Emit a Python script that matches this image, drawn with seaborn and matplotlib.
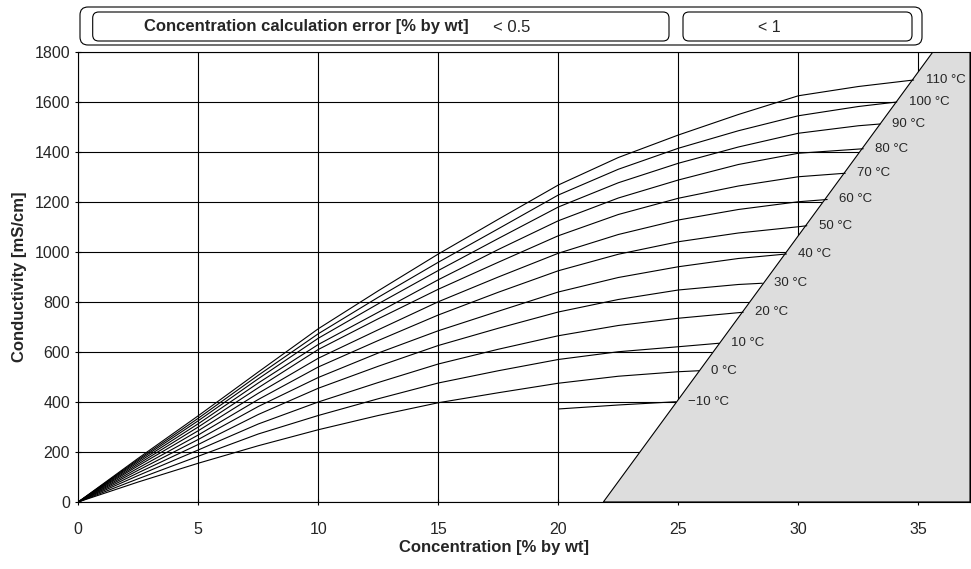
import pandas as pd
import seaborn as sns
import matplotlib.pyplot as plt
from matplotlib.patches import FancyBboxPatch

# concentration grid [% by wt]
conc = [0, 2.5, 5, 7.5, 10, 12.5, 15, 17.5, 20, 22.5, 25, 27.5, 30, 32.5]

# conductivity [mS/cm], one list per temperature
c110 = [0, 175, 345, 520, 693, 845, 992, 1131, 1268, 1378, 1468, 1550, 1625, 1662]
c100 = [0, 170, 335, 507, 673, 819, 959, 1093, 1228, 1331, 1415, 1485, 1545, 1582]
c90 = [0, 165, 325, 493, 655, 793, 926, 1054, 1180, 1277, 1355, 1420, 1475, 1505]
c80 = [0, 159, 313, 476, 630, 759, 889, 1010, 1125, 1216, 1288, 1350, 1395]
c70 = [0, 152, 300, 457, 610, 733, 851, 959, 1065, 1150, 1215, 1264, 1301]
c60 = [0, 145, 285, 435, 575, 689, 801, 900, 995, 1070, 1128, 1170, 1201]
c50 = [0, 136, 268, 410, 540, 646, 748, 839, 925, 991, 1041, 1076, 1101]
c40 = [0, 127, 250, 382, 498, 596, 685, 763, 840, 898, 941, 974]
c30 = [0, 117, 230, 350, 455, 543, 626, 695, 760, 810, 848, 870]
c20 = [0, 106, 208, 312, 400, 478, 552, 611, 665, 706, 735]
c10 = [0, 93, 183, 272, 346, 413, 476, 525, 570, 601, 621]
c0 = [0, 80, 155, 225, 289, 346, 397, 437, 475, 503, 521]
cm10_conc = [20, 22.5]
cm10 = [372, 388]

temps = [110, 100, 90, 80, 70, 60, 50, 40, 30, 20, 10, 0, -10]
series = [c110, c100, c90, c80, c70, c60, c50, c40, c30, c20, c10, c0, cm10]
# where each curve meets the shaded limit
end_conc = [34.8, 34.1, 33.4, 32.7, 31.95, 31.2, 30.35, 29.5, 28.5, 27.7, 26.7, 25.86, 24.9]
end_cond = [1688, 1600, 1512, 1413, 1315, 1210, 1105, 992, 875, 759, 635, 525, 401]

# shaded region (outside calculation range)
limit_conc = [21.875, 35.6]
limit_cond = [0, 1800]

rows = []
for t, vals, xe, ye in zip(temps, series, end_conc, end_cond):
    xs = cm10_conc if t == -10 else conc[:len(vals)]
    for x, y in zip(list(xs) + [xe], list(vals) + [ye]):
        rows.append({"temp": t, "conc": x, "cond": y})
df = pd.DataFrame(rows)

sns.set_style("ticks")
plt.rcParams['font.family'] = ['Liberation Sans', 'DejaVu Sans']

fig = plt.figure(figsize=(9.71, 5.69), dpi=100)
ax = fig.add_axes([0.0806, 0.1178, 0.9184, 0.7908])
xmax = 37.15

ax.set_axisbelow(True)
ax.grid(True, color="black", lw=0.8)
ax.fill([limit_conc[0], limit_conc[1], xmax, xmax],
        [limit_cond[0], limit_cond[1], limit_cond[1], limit_cond[0]],
        facecolor="#dddddd", edgecolor="black", lw=0.8, zorder=1)

sns.lineplot(data=df, x="conc", y="cond", hue="temp", units="temp", estimator=None,
             palette={t: "black" for t in temps}, legend=False, lw=0.8, ax=ax, zorder=2)

for t, xe, ye in zip(temps, end_conc, end_cond):
    lab = ("\u2212%d" % -t if t < 0 else "%d" % t) + " °C"
    ax.text(xe + 0.5, ye, lab, fontsize=9.5, va="center", ha="left", zorder=3)

ax.set_xlim(0, xmax)
ax.set_ylim(0, 1800)
ax.set_xticks(range(0, 40, 5))
ax.set_yticks(range(0, 2000, 200))
ax.tick_params(axis="both", direction="inout", length=5, width=0.8, labelsize=11.5, color="black")
ax.tick_params(axis="x", pad=12)
for s in ax.spines.values():
    s.set_color("black")
    s.set_linewidth(0.8)

ax.set_xlabel("Concentration [% by wt]", fontsize=12, fontweight="bold")
ax.xaxis.set_label_coords(34.6 / xmax / 2, -0.085)
ax.set_ylabel("Conductivity [mS/cm]", fontsize=12, fontweight="bold", labelpad=5)

# header boxes (inch coordinates)
tr = fig.dpi_scale_trans
fig.patches.append(FancyBboxPatch((0.80, 5.24), 8.42, 0.38, boxstyle="round,pad=0,rounding_size=0.08",
                                  transform=tr, facecolor="white", edgecolor="black", lw=0.8))
fig.patches.append(FancyBboxPatch((0.927, 5.28), 5.763, 0.29, boxstyle="round,pad=0,rounding_size=0.06",
                                  transform=tr, facecolor="white", edgecolor="black", lw=0.8))
fig.patches.append(FancyBboxPatch((6.83, 5.28), 2.29, 0.29, boxstyle="round,pad=0,rounding_size=0.06",
                                  transform=tr, facecolor="white", edgecolor="black", lw=0.8))
fig.text(3.06, 5.42, "Concentration calculation error [% by wt]", transform=tr,
         fontsize=12, fontweight="bold", ha="center", va="center")
fig.text(4.93, 5.42, "< 0.5", transform=tr, fontsize=12, ha="left", va="center")
fig.text(7.69, 5.42, "< 1", transform=tr, fontsize=11.5, ha="center", va="center")

fig.savefig("out.png", dpi=100)
